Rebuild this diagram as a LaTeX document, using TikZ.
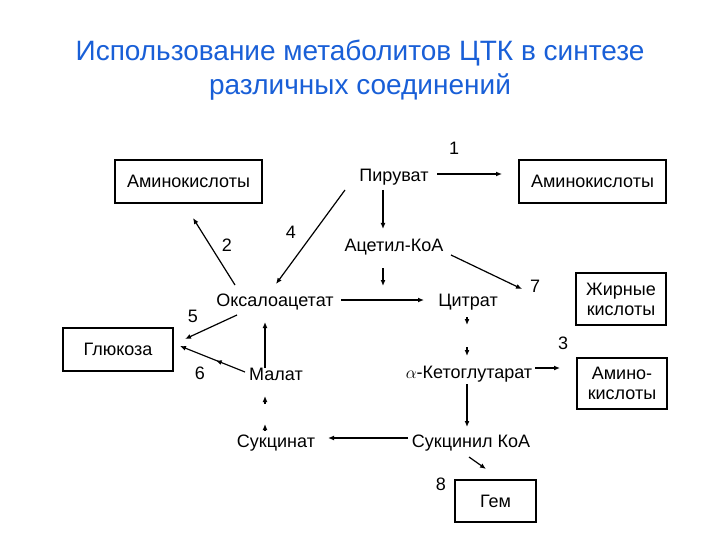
\documentclass[tikz,border=0pt]{standalone}
\usepackage{fontspec}
\setmainfont{Liberation Sans}
\usetikzlibrary{arrows.meta,decorations.markings}
\definecolor{titleblue}{RGB}{25,95,215}

\begin{document}
\begin{tikzpicture}[
    x=1pt, y=-1pt,
    box/.style={rectangle, draw, line width=1.3pt, align=center, inner sep=0pt, font=\fontsize{18}{20}\selectfont},
    lbl/.style={inner sep=0pt, font=\fontsize{18}{20}\selectfont},
    num/.style={inner sep=0pt, font=\fontsize{18}{20}\selectfont},
    arr/.style={-{Latex[length=6pt,width=5pt]}, line width=1.2pt},
    midarr/.style={arr, postaction={decorate}, decoration={markings, mark=at position 0.45 with {\arrow{Latex[length=6pt,width=5pt]}}}},
    ttl/.style={text=titleblue, align=center, font=\fontsize{28}{34}\selectfont}
]
\useasboundingbox (0,0) rectangle (720,540);

% Title
\node[ttl] (title) at (360,70) {Использование метаболитов ЦТК в синтезе\\различных соединений};

% Boxes
\node[box, minimum width=147, minimum height=43] (amino1) at (188.5,181.5) {Аминокислоты};
\node[box, minimum width=147, minimum height=43] (amino2) at (592.5,181.5) {Аминокислоты};
\node[box, minimum width=90, minimum height=52] (fatty) at (621,299) {Жирные\\кислоты};
\node[box, minimum width=110, minimum height=43] (glucose) at (118,349.5) {Глюкоза};
\node[box, minimum width=90, minimum height=51] (amino3) at (622,383.5) {Амино-\\кислоты};
\node[box, minimum width=81, minimum height=42] (heme) at (495.5,501) {Гем};

% Metabolites
\node[lbl] (piruvat) at (394,177) {Пируват};
\node[lbl] (acetyl) at (394,247) {Ацетил-КоА};
\node[lbl] (oxal) at (275,302) {Оксалоацетат};
\node[lbl] (citrat) at (468,302) {Цитрат};
\node[lbl] (kg) at (469,374) {$\alpha$-Кетоглутарат};
\node[lbl] (malat) at (276,374) {Малат};
\node[lbl] (succ) at (276,443) {Сукцинат};
\node[lbl] (succoa) at (471,443) {Сукцинил КоА};

% Numbers
\node[num] (n1) at (454,148) {1};
\node[num] (n2) at (227,245) {2};
\node[num] (n3) at (563,343) {3};
\node[num] (n4) at (291,232) {4};
\node[num] (n5) at (193,316) {5};
\node[num] (n6) at (200,373) {6};
\node[num] (n7) at (535,286) {7};
\node[num] (n8) at (441,484) {8};

% Upper part
\draw[arr] ([shift={(43,-3)}]piruvat.center) -- ([shift={(-90.5,-7.5)}]amino2.center);
\draw[arr] ([shift={(-11,13)}]piruvat.center) -- ([shift={(-11,-18)}]acetyl.center);
\draw[arr] ([shift={(-49,13)}]piruvat.center) -- ([shift={(1,-18)}]oxal.center);
\draw[arr] ([shift={(-40,-17)}]oxal.center) -- ([shift={(4.5,36.5)}]amino1.center);
\draw[arr] ([shift={(-11,21)}]acetyl.center) -- ([shift={(-11,39)}]acetyl.center);
\draw[arr] ([shift={(66,-2)}]oxal.center) -- ([shift={(-44,-2)}]citrat.center);
\draw[arr] ([shift={(57,8)}]acetyl.center) -- ([shift={(-99,-10)}]fatty.center);

% Cycle, right side
\draw[arr] ([shift={(-1,15)}]citrat.center) -- ([shift={(-1,23)}]citrat.center);
\draw[arr] ([shift={(-2,-27)}]kg.center) -- ([shift={(-2,-18)}]kg.center);
\draw[arr] ([shift={(66,-6)}]kg.center) -- ([shift={(-62,-15.5)}]amino3.center);
\draw[arr] ([shift={(-2,10)}]kg.center) -- ([shift={(-4,-16)}]succoa.center);
\draw[arr] ([shift={(-63,-5)}]succoa.center) -- ([shift={(52,-5)}]succ.center);
\draw[arr] ([shift={(-2,14)}]succoa.center) -- ([shift={(-9.5,-32)}]heme.center);

% Cycle, left side
\draw[arr] ([shift={(-11,-12)}]succ.center) -- ([shift={(-11,-19)}]succ.center);
\draw[arr] ([shift={(-11,30)}]malat.center) -- ([shift={(-11,22)}]malat.center);
\draw[arr] ([shift={(-11,-6)}]malat.center) -- ([shift={(-10,20)}]oxal.center);
\draw[arr] ([shift={(-38,13)}]oxal.center) -- ([shift={(67,-10.5)}]glucose.center);
\draw[midarr] ([shift={(-31,-2)}]malat.center) -- ([shift={(62,-3.5)}]glucose.center);

\end{tikzpicture}
\end{document}
